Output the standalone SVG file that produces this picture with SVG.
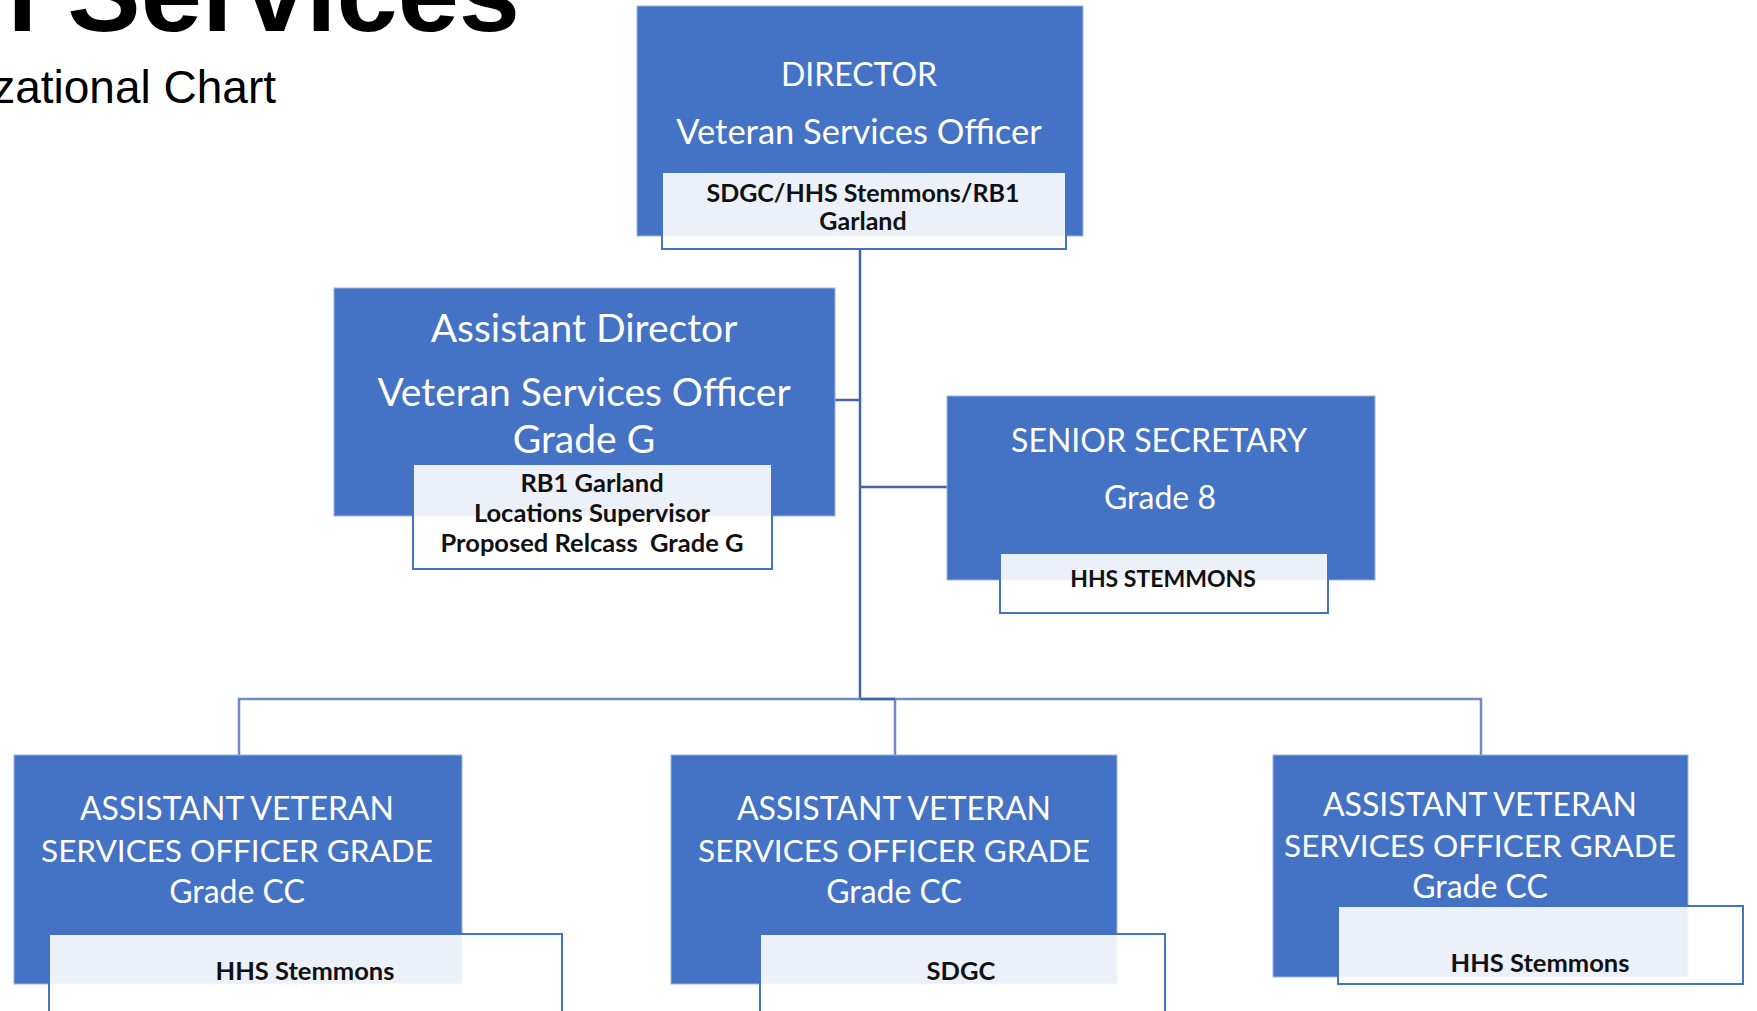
<svg xmlns="http://www.w3.org/2000/svg" width="1757" height="1011" viewBox="0 0 1757 1011">
<style>
.box{fill:#4472C4;stroke:#9fb4de;stroke-width:1}
.sub{fill:#ffffff;fill-opacity:0.9;stroke:#4472C4;stroke-width:2}
.t{font-family:Lato,"Open Sans",sans-serif;fill:#ffffff;text-anchor:middle}
.s{font-family:Lato,"Open Sans",sans-serif;font-weight:bold;fill:#111111;text-anchor:middle}
.c{fill:none;stroke:#6f8bc8;stroke-width:2.5}
.cd{fill:none;stroke:#4564a8;stroke-width:2.5}
</style>
<rect width="1757" height="1011" fill="#ffffff"/>
<g id="title">
<text x="520" y="31" font-family="'Liberation Sans',Arial,sans-serif" font-weight="bold" font-size="110" text-anchor="end" fill="#000">n Services</text>
<text x="276" y="103" font-family="'Liberation Sans',Arial,sans-serif" font-size="46" text-anchor="end" fill="#000">zational Chart</text>
</g>
<g id="connectors">
<path class="cd" d="M860 249 V699"/>
<path class="cd" d="M835 400 H860"/>
<path class="cd" d="M860 487 H947"/>
<path class="c" d="M239 755 V699 H1481 V755"/>
<path class="c" d="M895 699 V755"/>
<path class="cd" d="M860 699 H895"/>
</g>
<g id="director">
<rect class="box" x="637" y="6" width="446" height="230"/>
<text class="t" x="859" y="86" font-size="32">DIRECTOR</text>
<text class="t" x="859" y="144" font-size="34.5">Veteran Services Officer</text>
<rect class="sub" x="662" y="172" width="404" height="77"/>
<text class="s" x="863" y="202" font-size="25">SDGC/HHS Stemmons/RB1</text>
<text class="s" x="863" y="230" font-size="25">Garland</text>
</g>
<g id="assistant-director">
<rect class="box" x="334" y="288" width="501" height="228"/>
<text class="t" x="584" y="342" font-size="39">Assistant Director</text>
<text class="t" x="584" y="406" font-size="39">Veteran Services Officer</text>
<text class="t" x="584" y="453" font-size="39">Grade G</text>
<rect class="sub" x="413" y="464" width="359" height="105"/>
<text class="s" x="592" y="492" font-size="25.5">RB1 Garland</text>
<text class="s" x="592" y="522" font-size="25.5">Locations Supervisor</text>
<text class="s" x="592" y="552" font-size="25.5" xml:space="preserve">Proposed Relcass  Grade G</text>
</g>
<g id="senior-secretary">
<rect class="box" x="947" y="396" width="428" height="184"/>
<text class="t" x="1159" y="452" font-size="32">SENIOR SECRETARY</text>
<text class="t" x="1160" y="509" font-size="32">Grade 8</text>
<rect class="sub" x="1000" y="553" width="328" height="60"/>
<text class="s" x="1163" y="587" font-size="23">HHS STEMMONS</text>
</g>
<g id="avso-1">
<rect class="box" x="14" y="755" width="448" height="229"/>
<text class="t" x="237" y="820" font-size="32">ASSISTANT VETERAN</text>
<text class="t" x="237" y="862" font-size="31.5">SERVICES OFFICER GRADE</text>
<text class="t" x="237" y="903" font-size="32">Grade CC</text>
<rect class="sub" x="49" y="934" width="513" height="90"/>
<text class="s" x="305" y="980" font-size="25.5">HHS Stemmons</text>
</g>
<g id="avso-2">
<rect class="box" x="671" y="755" width="446" height="229"/>
<text class="t" x="894" y="820" font-size="32">ASSISTANT VETERAN</text>
<text class="t" x="894" y="862" font-size="31.5">SERVICES OFFICER GRADE</text>
<text class="t" x="894" y="903" font-size="32">Grade CC</text>
<rect class="sub" x="760" y="934" width="405" height="90"/>
<text class="s" x="961" y="980" font-size="25.5">SDGC</text>
</g>
<g id="avso-3">
<rect class="box" x="1273" y="755" width="415" height="222"/>
<text class="t" x="1480" y="816" font-size="32">ASSISTANT VETERAN</text>
<text class="t" x="1480" y="857" font-size="31.5">SERVICES OFFICER GRADE</text>
<text class="t" x="1480" y="898" font-size="32">Grade CC</text>
<rect class="sub" x="1338" y="906" width="405" height="78"/>
<text class="s" x="1540" y="972" font-size="25.5">HHS Stemmons</text>
</g>
</svg>
